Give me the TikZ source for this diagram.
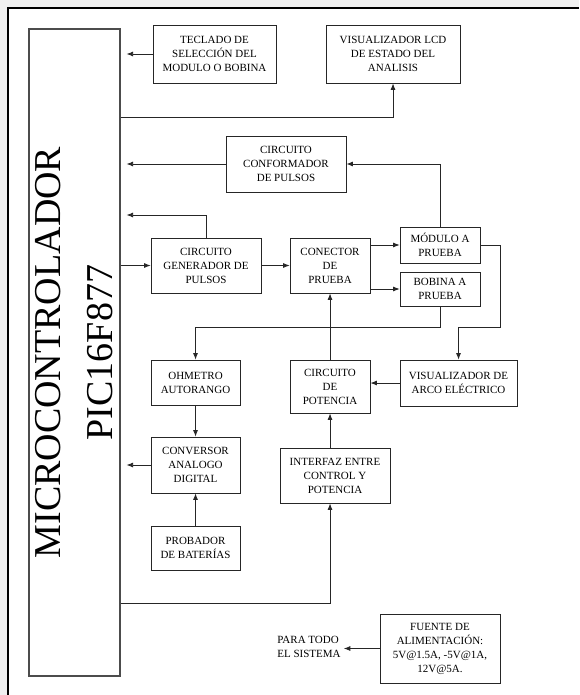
\documentclass[tikz,border=0pt]{standalone}
\usepackage{fontspec}
\setmainfont{Liberation Serif}
\usetikzlibrary{arrows.meta}

\begin{document}
\begin{tikzpicture}[%
      x=1pt, y=-1pt,
      blk/.style={draw=black!85, line width=0.8pt, inner sep=0pt, align=center,
        font=\fontsize{11}{14}\selectfont},
      arr/.style={draw=black!85, line width=0.8pt, -{Latex[length=6.5pt,width=5pt]}},
      tomc/.style={arr, shorten >=6pt},
      ]
      \useasboundingbox (0,0) rectangle (579,695);
      \fill [color=gray!12] (0,0) rectangle (579,695);
      \fill [color=white] (8,8) rectangle (579,695);
      \draw [color=black, line width=2pt] (8,695) -- (8,8) -- (579,8);

      \node [draw=black!70, line width=1.2pt, minimum width=91, minimum height=647] (mc) at (74.5,352.5) {};
      \node [rotate=90, align=center, font=\fontsize{38}{52}\selectfont] (mctxt) at (mc) {MICROCONTROLADOR\\PIC16F877};

      \node [blk, minimum width=123, minimum height=58] (tecl) at (214.5,54) {TECLADO DE\\SELECCIÓN DEL\\MODULO O BOBINA};
      \node [blk, minimum width=134, minimum height=58] (lcd) at (393,54) {VISUALIZADOR LCD\\DE ESTADO DEL\\ANALISIS};
      \node [blk, minimum width=120, minimum height=56] (conf) at (286,164) {CIRCUITO\\CONFORMADOR\\DE PULSOS};
      \node [blk, minimum width=110, minimum height=55] (gen) at (206,265.5) {CIRCUITO\\GENERADOR DE\\PULSOS};
      \node [blk, minimum width=80, minimum height=55] (con) at (330,265.5) {CONECTOR\\DE\\PRUEBA};
      \node [blk, minimum width=80, minimum height=36] (mod) at (440,245) {MÓDULO A\\PRUEBA};
      \node [blk, minimum width=80, minimum height=34] (bob) at (440,289) {BOBINA A\\PRUEBA};
      \node [blk, minimum width=89, minimum height=45] (ohm) at (195.5,382.5) {OHMETRO\\AUTORANGO};
      \node [blk, minimum width=80, minimum height=53] (pot) at (330,386.5) {CIRCUITO\\DE\\POTENCIA};
      \node [blk, minimum width=117, minimum height=46] (arco) at (458.5,383) {VISUALIZADOR DE\\ARCO ELÉCTRICO};
      \node [blk, minimum width=89, minimum height=56] (conv) at (195.5,465) {CONVERSOR\\ANALOGO\\DIGITAL};
      \node [blk, minimum width=110, minimum height=55] (int) at (335,475.5) {INTERFAZ ENTRE\\CONTROL Y\\POTENCIA};
      \node [blk, minimum width=89, minimum height=44] (prob) at (195.5,548) {PROBADOR\\DE BATERÍAS};
      \node [blk, minimum width=120, minimum height=69] (fue) at (440,648.5) {FUENTE DE\\ALIMENTACIÓN:\\5V@1.5A, -5V@1A,\\12V@5A.};
      \node [align=left, inner sep=3pt, font=\fontsize{11}{13.5}\selectfont] (todo) at (309,647) {PARA TODO\\EL SISTEMA};

      \draw [tomc] (tecl.west) -- (mc.east |- tecl.west);
      \draw [arr] (mc.east |- 0,117) -| (lcd.south);
      \draw [tomc] (conf.west) -- (mc.east |- conf.west);
      \draw [arr] (mod.north) |- (conf.east);
      \draw [tomc] (gen.north) |- (mc.east |- 0,215);
      \draw [arr] (mc.east |- gen.west) -- (gen.west);
      \draw [arr] (gen) -- (con);
      \draw [arr] (con.east |- mod.west) -- (mod.west);
      \draw [arr] (con.east |- bob.west) -- (bob.west);
      \draw [arr] (mod.east) -| (500,327) -| (arco.north);
      \draw [arr] (bob.south) -- (bob.south |- 0,327) -| (ohm.north);
      \draw [arr] (arco.west) -- (pot.east |- arco.west);
      \draw [arr] (pot) -- (con);
      \draw [arr] (ohm) -- (conv);
      \draw [tomc] (conv.west) -- (mc.east |- conv.west);
      \draw [arr] (pot |- int.north) -- (pot.south);
      \draw [arr] (prob) -- (conv);
      \draw [arr] (mc.east |- 0,603) -| (pot |- int.south);
      \draw [arr] (fue.west) -- (todo.east |- fue.west);
      \end{tikzpicture}
\end{document}
